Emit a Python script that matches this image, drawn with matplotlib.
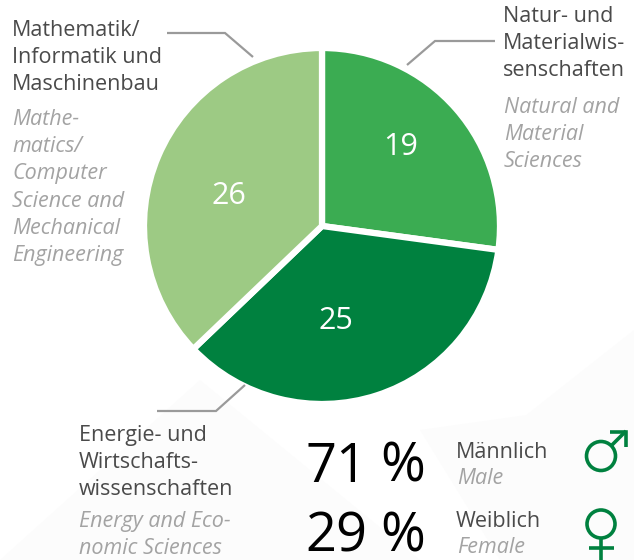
import matplotlib
matplotlib.use("Agg")
import matplotlib.pyplot as plt
from matplotlib.patches import Circle, Polygon

W, H = 634, 560
values = [19, 25, 26]
colors = ["#3BAC52", "#00813F", "#9DCA84"]
share_values = ["71", "29"]
share_de = ["Männlich", "Weiblich"]
share_en = ["Male", "Female"]

plt.rcParams["font.family"] = ["Open Sans", "DejaVu Sans"]
DARK = "#4a4a4a"
GREY = "#a3a3a3"
LINE = "#9a9a9a"
GREEN = "#00813F"

fig = plt.figure(figsize=(W / 100, H / 100), dpi=100, facecolor="white")

ov = fig.add_axes([0, 0, 1, 1], zorder=0)
ov.set_xlim(0, W)
ov.set_ylim(H, 0)
ov.axis("off")
for pts in [[(0, 560), (200, 380), (420, 560)],
            [(420, 430), (634, 400), (634, 560), (500, 560)],
            [(520, 420), (634, 330), (634, 420)]]:
    ov.add_patch(Polygon(pts, closed=True, fc="#fcfcfc", ec="none", zorder=0))

cx, cy, r = 322, 226, 178
pie = fig.add_axes([(cx - r) / W, 1 - (cy + r) / H, 2 * r / W, 2 * r / H], zorder=1)
pie.pie(values, colors=colors, startangle=90, counterclock=False, radius=1,
        wedgeprops=dict(edgecolor="white", linewidth=4.5))
pie.set_xlim(-1, 1)
pie.set_ylim(-1, 1)
pie.set_aspect("equal")
pie.axis("off")

top = fig.add_axes([0, 0, 1, 1], zorder=2)
top.set_xlim(0, W)
top.set_ylim(H, 0)
top.axis("off")
top.patch.set_alpha(0)

for x, y, s in [(401, 147, str(values[0])), (336, 321, str(values[1])), (229, 196, str(values[2]))]:
    top.text(x, y, s, color="white", fontsize=22, ha="center", va="center")

def block(x, y0, lines, step, color, style="normal", size=15.5):
    for i, s in enumerate(lines):
        top.text(x, y0 + i * step, s, color=color, fontstyle=style, fontsize=size,
                 ha="left", va="baseline")

block(12, 36, ["Mathematik/", "Informatik und", "Maschinenbau"], 27.2, DARK)
block(12, 125, ["Mathe-", "matics/", "Computer", "Science and", "Mechanical", "Engineering"], 27.2, GREY, "italic")
block(503, 22, ["Natur- und", "Materialwis-", "senschaften"], 27.2, DARK)
block(504, 113, ["Natural and", "Material", "Sciences"], 27.2, GREY, "italic")
block(79, 441, ["Energie- und", "Wirtschafts-", "wissenschaften"], 27.2, DARK)
block(79, 527, ["Energy and Eco-", "nomic Sciences"], 27.2, GREY, "italic")

for xs, ys in [([167, 225, 253], [33, 33, 57]),
               ([407, 435, 495], [65, 41, 41]),
               ([157, 216, 245], [411, 411, 385])]:
    top.plot(xs, ys, color=LINE, lw=1.6, solid_joinstyle="miter", solid_capstyle="butt")

for y, s in zip([482, 552], share_values):
    top.text(305, y, s, color="black", fontsize=39, ha="left", va="baseline")
    top.text(380, y, "%", color="black", fontsize=39, ha="left", va="baseline")
for y, s in zip([458, 527], share_de):
    top.text(456, y, s, color=DARK, fontsize=15.5, ha="left", va="baseline")
for y, s in zip([484, 553], share_en):
    top.text(457, y, s, color=GREY, fontsize=15.5, fontstyle="italic", ha="left", va="baseline")

sym = dict(color=GREEN, lw=2.6, solid_capstyle="butt", solid_joinstyle="miter")
top.add_patch(Circle((601, 456), 14.5, fc="none", ec=GREEN, lw=2.6))
top.plot([611, 626], [446, 431], **sym)
top.plot([610, 626, 626], [432, 432, 447], **sym)
top.add_patch(Circle((601, 524), 14, fc="none", ec=GREEN, lw=2.6))
top.plot([601, 601], [538, 560], **sym)
top.plot([589, 614], [548, 548], **sym)

fig.savefig("out.png", dpi=100, facecolor="white")
